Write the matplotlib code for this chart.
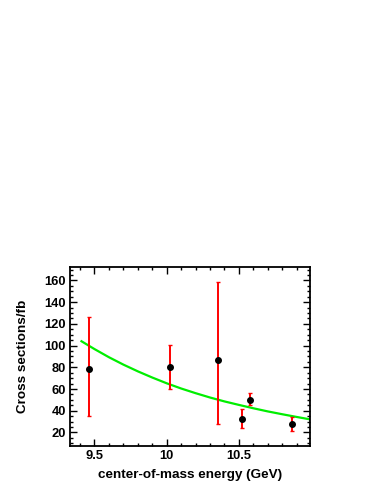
import numpy as np
import matplotlib.pyplot as plt
from matplotlib.ticker import MultipleLocator

plt.rcParams['font.family'] = ['Liberation Sans', 'DejaVu Sans']
plt.rcParams['font.weight'] = 'bold'

# Measured cross sections
energy = [9.46, 10.023, 10.355, 10.52, 10.58, 10.867]
xsec = [78.5, 80.0, 87.0, 32.5, 50.0, 27.5]
err_lo = [43.0, 20.0, 59.0, 8.5, 5.0, 6.0]
err_hi = [47.5, 21.0, 71.5, 9.0, 6.0, 6.5]

# Fit curve
fit_x = [9.41, 9.5, 9.6, 9.7, 9.8, 9.9, 10.0, 10.1, 10.2, 10.3, 10.4,
         10.5, 10.6, 10.7, 10.8, 10.9, 11.0]
fit_y = [104.0, 96.8, 89.3, 82.5, 76.3, 70.6, 65.3, 60.5, 56.2, 52.2, 48.6,
         45.4, 42.3, 39.4, 36.8, 34.3, 31.9]

fig = plt.figure(figsize=(3.74, 4.84), dpi=100)
ax = fig.add_axes([0.187, 0.0795, 0.643, 0.368])

ax.plot(fit_x, fit_y, color='#00ee00', lw=1.6, zorder=2)
ax.errorbar(energy, xsec, yerr=[err_lo, err_hi], fmt='none', ecolor='red',
            elinewidth=1.4, capsize=1.5, capthick=1.0, zorder=3)
ax.plot(energy, xsec, 'o', color='black', ms=4.0, zorder=4)

ax.set_xlim(9.33, 10.995)
ax.set_ylim(8, 172)
ax.xaxis.set_minor_locator(MultipleLocator(0.1))
ax.yaxis.set_major_locator(MultipleLocator(20))
ax.yaxis.set_minor_locator(MultipleLocator(5))
ax.set_xticks([9.5, 10, 10.5])
ax.set_xticklabels(['9.5', '10', '10.5'])
ax.set_yticks(range(20, 161, 20))
ax.tick_params(which='both', direction='in', top=True, right=True,
               labelsize=9.3, width=1.0, pad=3)
ax.tick_params(which='major', length=5)
ax.tick_params(which='minor', length=2.5)
for s in ax.spines.values():
    s.set_linewidth(1.3)

ax.set_xlabel('center-of-mass energy (GeV)', fontsize=9.7, fontweight='bold', labelpad=5)
ax.set_ylabel('Cross sections/fb', fontsize=9.7, fontweight='bold', labelpad=11)

fig.savefig('out.png', dpi=100)
